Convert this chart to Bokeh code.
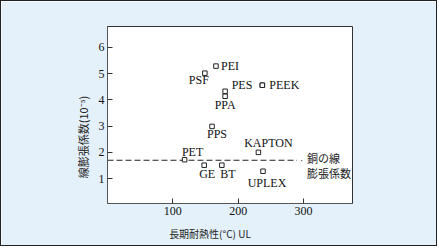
from bokeh.plotting import figure
from bokeh.models import ColumnDataSource, Range1d, FixedTicker
from bokeh.core.properties import value
from bokeh.embed import file_html
from bokeh.resources import INLINE

# --- data ---
materials = ["PEI", "PSF", "PES", "PEEK", "PPA", "PPA", "PPS", "KAPTON", "PET", "GE", "BT", "UPLEX"]
heat_resist = [166, 149, 237, 237, 180, 180, 160, 231, 118, 148, 175, 238]      # °C (UL)
expansion = [5.29, 5.02, 4.56, 4.56, 4.33, 4.14, 2.99, 2.00, 1.72, 1.51, 1.51, 1.28]  # 10^-5
copper_expansion = 1.70
copper_line_end = 290
x_ticks = [100, 200, 300]
y_ticks = [1, 2, 3, 4, 5, 6]
x_title = "長期耐熱性(°C) UL"
y_title = "線膨張係数(10⁻⁵)"

# label styling: pixel offsets (screen, +down) / alignment per label (style only)
label_dx = [5, -6, -10, 7, 0, 0, 5, 10, 8, 3, 6, 4]
label_dy = [0, 7, 0, 0, 0, 9, 8, -9, -8, 9, 9, 12]
label_align = ["left", "center", "right", "left", None, "center", "center", "center", "center", "center", "center", "center"]

SERIF = "Liberation Serif"
CJK = "Noto Sans CJK JP"

p = figure(width=437, height=246, output_backend="svg", toolbar_location=None,
           x_range=Range1d(0, 375), y_range=Range1d(0.05, 6.8),
           min_border_left=106, min_border_right=86, min_border_top=25, min_border_bottom=44)
p.styles = {"border": "1px solid #222"}
p.background_fill_color = "white"
p.border_fill_color = "#e4f1fa"
p.outline_line_color = "#333"
p.outline_line_width = 1
p.grid.visible = False

for ax in (p.xaxis[0], p.yaxis[0]):
    ax.major_tick_in = 5
    ax.major_tick_out = 0
    ax.minor_tick_line_color = None
    ax.axis_line_color = "#555"
    ax.major_tick_line_color = "#333"
    ax.major_label_text_font = SERIF
    ax.major_label_text_font_size = "12px"
    ax.major_label_text_color = "#111"
    ax.axis_label_text_font = CJK
    ax.axis_label_text_font_style = "normal"
    ax.axis_label_text_color = "#222"
p.xaxis.ticker = FixedTicker(ticks=x_ticks)
p.yaxis.ticker = FixedTicker(ticks=y_ticks)
p.xaxis.major_label_standoff = 3
p.yaxis.major_label_standoff = 3

# axis titles; ideographic spaces shift the visible text off-centre like the original
p.xaxis.axis_label = x_title + "\u3000" * 4
p.xaxis.axis_label_text_font_size = "10px"
p.xaxis.axis_label_standoff = 8
p.yaxis.axis_label = y_title + "\u3000" * 4
p.yaxis.axis_label_text_font_size = "11px"
p.yaxis.axis_label_standoff = 5

# copper line
xs_line = [0, copper_line_end]
p.line(xs_line, [copper_expansion, copper_expansion], line_dash="6 3", line_color="#222", line_width=1.2)

src = ColumnDataSource(dict(x=heat_resist, y=expansion))
p.scatter("x", "y", source=src, marker="square", size=4.5, fill_color="white",
          line_color="#222", line_width=1)

for i, name in enumerate(materials):
    if label_align[i] is None:
        continue
    p.text(x=[heat_resist[i]], y=[expansion[i]], text=[name], x_offset=label_dx[i], y_offset=label_dy[i],
           text_font=value(SERIF), text_font_size="12px", text_color="#111",
           text_align=label_align[i], text_baseline="middle")

p.text(x=[copper_line_end], y=[copper_expansion], text=["銅の線"], x_offset=10, y_offset=-2,
       text_font=value(CJK), text_font_size="11px", text_color="#222", text_baseline="middle")
p.text(x=[copper_line_end], y=[copper_expansion], text=["膨張係数"], x_offset=10, y_offset=13,
       text_font=value(CJK), text_font_size="11px", text_color="#222", text_baseline="middle")
p.text(x=[copper_line_end], y=[copper_expansion], text=["·"], x_offset=3, y_offset=0,
       text_font=value(SERIF), text_font_size="10px", text_color="#222", text_baseline="middle")

open("out.html", "w").write(file_html(p, INLINE))
